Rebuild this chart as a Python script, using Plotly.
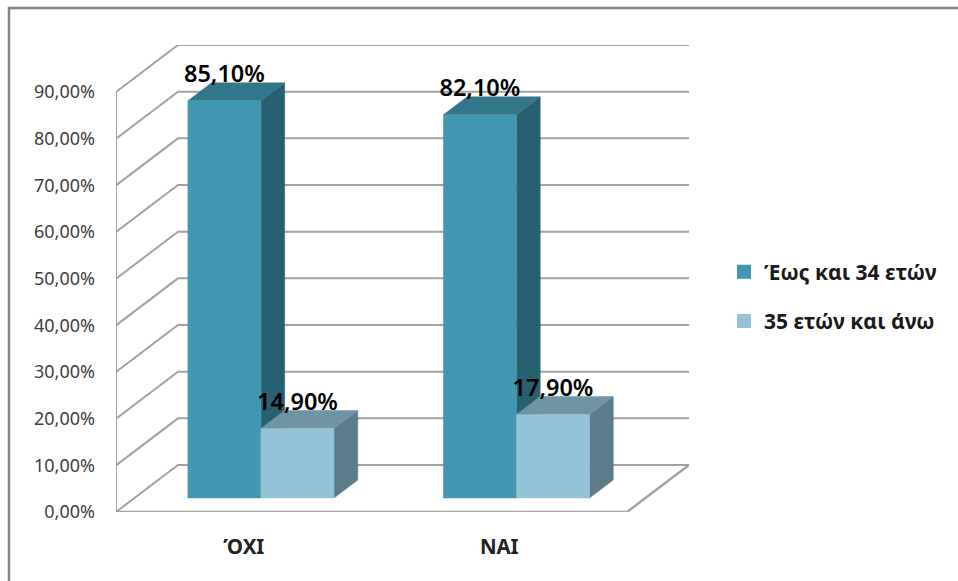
import plotly.graph_objects as go

categories = ["ΌΧΙ", "ΝΑΙ"]
series_names = ["Έως και 34 ετών", "35 ετών και άνω"]
values_young = [85.1, 82.1]
values_older = [14.9, 17.9]
y_ticks = [0, 10, 20, 30, 40, 50, 60, 70, 80, 90]
y_tick_labels = ["0,00%", "10,00%", "20,00%", "30,00%", "40,00%", "50,00%", "60,00%", "70,00%", "80,00%", "90,00%"]
label_texts = [["85,10%", "82,10%"], ["14,90%", "17,90%"]]

# Oblique projection: one unit of depth moves a point right and up on screen.
W, H = 958, 581
L, R, T, B = 116, 689, 45, 512
PX_X = 255.5          # pixels per category
PX_Y = (B - 92) / 90  # pixels per percent
WALL_DX, WALL_DY = 62 / PX_X, 47 / PX_Y
GAP = 0.209
BAR_W = 0.286
D0 = 14 / 47          # bars' front plane depth
D1 = D0 + 18 / 47     # bars' back plane depth


def proj(x, v, d=0.0):
    return x + d * WALL_DX, v + d * WALL_DY


GRID = "#a3a3a3"
fig = go.Figure()


def line(points, width=2):
    xs, ys = zip(*points)
    fig.add_trace(go.Scatter(x=xs, y=ys, mode="lines", line=dict(color=GRID, width=width),
                             hoverinfo="skip", showlegend=False))


n = len(categories)
for t in y_ticks:
    line([proj(0, t), proj(0, t, 1), proj(n, t, 1)])
line([proj(0, 0), proj(0, y_ticks[-1])])
line([proj(0, 0), proj(n, 0), proj(n, 0, 1)], 2.5)


def poly(points, color):
    xs, ys = zip(*points)
    fig.add_trace(go.Scatter(x=list(xs) + [xs[0]], y=list(ys) + [ys[0]], mode="lines", fill="toself",
                             fillcolor=color, line=dict(color=color, width=0.5),
                             hoverinfo="skip", showlegend=False))


palette = [
    dict(front="#4196b0", side="#28606f", top="#347689"),
    dict(front="#93c3d5", side="#5b7c88", top="#6f95a5"),
]
all_values = [values_young, values_older]
for c in range(n):
    for s, vals in enumerate(all_values):
        v = vals[c]
        x0 = c + GAP + s * BAR_W
        x1 = x0 + BAR_W
        colors = palette[s]
        poly([proj(x1, 0, D0), proj(x1, 0, D1), proj(x1, v, D1), proj(x1, v, D0)], colors["side"])
        poly([proj(x0, v, D0), proj(x1, v, D0), proj(x1, v, D1), proj(x0, v, D1)], colors["top"])
        poly([proj(x0, 0, D0), proj(x1, 0, D0), proj(x1, v, D0), proj(x0, v, D0)], colors["front"])

for s, vals in enumerate(all_values):
    xs, ys = [], []
    for c, v in enumerate(vals):
        px, py = proj(c + GAP + (s + 0.5) * BAR_W, v, D0)
        xs.append(px)
        ys.append(py + 5.2)
    fig.add_trace(go.Scatter(x=xs, y=ys, mode="text", text=label_texts[s], textposition="middle center",
                             textfont=dict(family="Noto Sans", size=23.5, color="#000000", weight=600),
                             hoverinfo="skip", showlegend=False))

for s, name in enumerate(series_names):
    fig.add_trace(go.Scatter(x=[None], y=[None], mode="markers", name=name, legendgroup=name,
                             marker=dict(symbol="square", size=14, color=palette[s]["front"])))

x_hi = n + WALL_DX
y_hi = y_ticks[-1] + WALL_DY


def paper_x(px):
    return (px - L) / (R - L)


def paper_y(py):
    return (B - py) / (B - T)


fig.update_layout(
    width=W, height=H,
    margin=dict(l=L, r=W - R, t=T, b=H - B, pad=0),
    paper_bgcolor="#ffffff", plot_bgcolor="#ffffff",
    xaxis=dict(range=[0, x_hi], tickvals=[i + 0.5 for i in range(n)], ticktext=categories,
               showgrid=False, zeroline=False, showline=False, ticks="", ticklabelstandoff=20,
               tickfont=dict(family="Noto Sans", size=20.5, color="#222222", weight=700)),
    yaxis=dict(range=[0, y_hi], tickvals=y_ticks, ticktext=y_tick_labels,
               showgrid=False, zeroline=False, showline=False, ticks="", ticklabelstandoff=20,
               tickfont=dict(family="Noto Sans", size=18, color="#404040")),
    legend=dict(x=paper_x(724), y=paper_y(296.5), xanchor="left", yanchor="middle",
                tracegroupgap=19, bgcolor="rgba(0,0,0,0)",
                font=dict(family="Noto Sans", size=21, color="#1a1a1a", weight=700)),
    shapes=[dict(type="rect", xref="paper", yref="paper",
                 x0=paper_x(9), x1=paper_x(975), y0=paper_y(600), y1=paper_y(8),
                 line=dict(color="#858585", width=2.5), fillcolor="rgba(0,0,0,0)", layer="below")],
)

fig.write_html("out.html", config={"displayModeBar": False},
               post_script="document.body.style.margin='0';document.body.style.overflow='hidden';")
